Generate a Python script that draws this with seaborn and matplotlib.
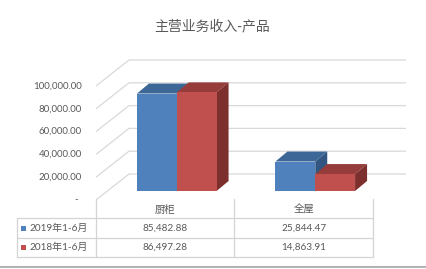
import matplotlib
matplotlib.use("Agg")
import matplotlib.pyplot as plt
import pandas as pd
import seaborn as sns
from matplotlib.patches import Polygon, Rectangle

# ---- data -------------------------------------------------------------
title = "主营业务收入-产品"
categories = ["厨柜", "全屋"]
series_names = ["2019年1-6月", "2018年1-6月"]
values_2019 = [85482.88, 25844.47]
values_2018 = [86497.28, 14863.91]
y_ticks = [0, 20000, 40000, 60000, 80000, 100000]

# ---- styling ----------------------------------------------------------
front_colors = ["#4F81BD", "#C0504D"]
top_colors = ["#3D6797", "#963D3B"]
side_colors = ["#325682", "#7D2F2D"]
text_color = "#595959"
grid_color = "#D9D9D9"
table_color = "#D4D4D4"

df = pd.DataFrame({
    "category": categories * 2,
    "series": [series_names[0]] * len(categories) + [series_names[1]] * len(categories),
    "value": values_2019 + values_2018,
})

sns.set_theme(style="white")
plt.rcParams["font.family"] = ["Lato", "Noto Sans CJK SC", "DejaVu Sans"]

W, H = 427, 269
fig = plt.figure(figsize=(W / 100, H / 100), dpi=100)
fig.patch.set_facecolor("white")

# pixel-space overlay (y grows downward) for the 3D walls, faces and table
ov = fig.add_axes([0, 0, 1, 1])
ov.set_xlim(0, W)
ov.set_ylim(H, 0)
ov.axis("off")

# the plane holding the bar fronts
ax = fig.add_axes([107.5 / W, 78 / H, 277 / W, 114 / H])
sns.barplot(data=df, x="category", y="value", hue="series",
            order=categories, hue_order=series_names,
            palette=front_colors, saturation=1, width=0.575,
            legend=False, ax=ax, linewidth=0)
ax.set_xlim(-0.5, 1.5)
ax.set_ylim(0, 100000)
ax.axis("off")
ax.patch.set_alpha(0)


def px(x, v):
    X, Y = ax.transData.transform((x, v))
    return X, H - Y


FRONT = (-11.5, 9)    # viewer-side floor edge relative to bar plane
BACK = (21.5, -17)    # back wall relative to bar plane
DEPTH = (12, -10)     # bar depth

# back wall gridlines + left wall diagonals + value labels
for t in y_ticks:
    xl, yl = px(-0.5, t)
    xr, _ = px(1.5, t)
    fx, fy = xl + FRONT[0], yl + FRONT[1]
    bx, by = xl + BACK[0], yl + BACK[1]
    ov.plot([fx, bx, xr + BACK[0]], [fy, by, by], color=grid_color,
            lw=0.9, zorder=1, solid_capstyle="butt")
    label = "-" if t == 0 else f"{t:,.2f}"
    ov.text(82 if t else 78, fy, label, ha="right", va="center",
            fontsize=7, color=text_color)

# top and side faces of each bar
for k, cont in enumerate(ax.containers):
    for p in cont:
        x0, w, h = p.get_x(), p.get_width(), p.get_height()
        X0, Yt = px(x0, h)
        X1, Yb = px(x0 + w, 0)
        dx, dy = DEPTH
        top = [(X0, Yt), (X1, Yt), (X1 + dx, Yt + dy), (X0 + dx, Yt + dy)]
        side = [(X1, Yt), (X1 + dx, Yt + dy), (X1 + dx, Yb + dy), (X1, Yb)]
        ov.add_patch(Polygon(top, closed=True, facecolor=top_colors[k],
                             edgecolor="none", zorder=2 + k))
        ov.add_patch(Polygon(side, closed=True, facecolor=side_colors[k],
                             edgecolor="none", zorder=2 + k))

# title
fig.text(212.5 / W, 1 - 26 / H, title, ha="center", va="center",
         fontsize=10, color=text_color, family=["Noto Sans CJK SC"])

# ---- data table -------------------------------------------------------
col_edges = [px(c, 0)[0] + FRONT[0] for c in (-0.5, 0.5, 1.5)]
label_left = 17
top_y = px(0, 0)[1] + FRONT[1] - 1
row_lines = [218, 238, 257]
lw_t = 0.9

for xe in col_edges:
    ov.plot([xe, xe], [top_y, row_lines[-1]], color=table_color, lw=lw_t, zorder=1)
ov.plot([label_left, label_left], [row_lines[0], row_lines[-1]],
        color=table_color, lw=lw_t, zorder=1)
for yl in row_lines:
    ov.plot([label_left, col_edges[-1]], [yl, yl], color=table_color, lw=lw_t, zorder=1)

header_y = (top_y + row_lines[0]) / 2 + 1
for i, cat in enumerate(categories):
    cx = (col_edges[i] + col_edges[i + 1]) / 2
    ov.text(cx, header_y, cat, ha="center", va="center", fontsize=7.5,
            color=text_color, family=["Noto Sans CJK SC"])

rows = [values_2019, values_2018]
for r, (name, vals) in enumerate(zip(series_names, rows)):
    cy = (row_lines[r] + row_lines[r + 1]) / 2
    ov.add_patch(Rectangle((21, cy - 2.5), 5, 5, facecolor=front_colors[r],
                           edgecolor="none", zorder=2))
    ov.text(29, cy, name, ha="left", va="center", fontsize=7.2,
            color=text_color, family=["Lato", "Noto Sans CJK SC"])
    for i, v in enumerate(vals):
        cx = (col_edges[i] + col_edges[i + 1]) / 2
        ov.text(cx, cy, f"{v:,.2f}", ha="center", va="center", fontsize=7.2,
                color=text_color)

# chart area bottom border
ov.plot([0, W], [267, 267], color="#A6A6A6", lw=1.2, zorder=1)

fig.savefig("out.png", dpi=100, facecolor="white")
